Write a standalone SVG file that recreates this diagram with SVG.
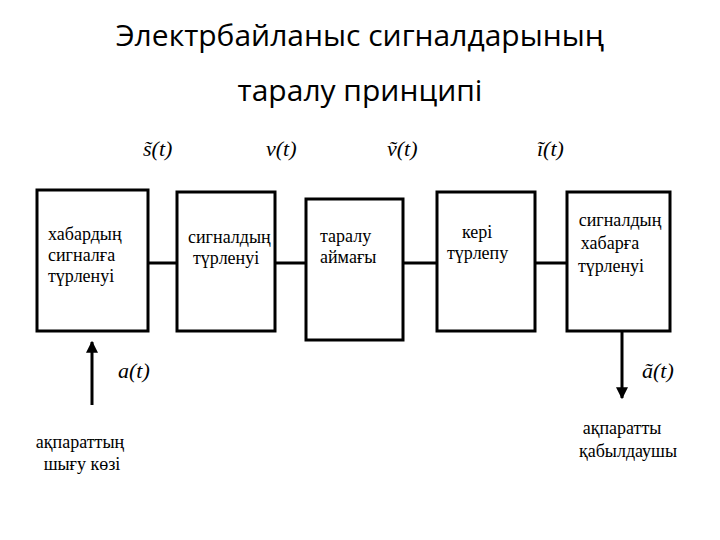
<svg xmlns="http://www.w3.org/2000/svg" width="720" height="540" viewBox="0 0 720 540">
<style>
.b{fill:#fff;stroke:#000;stroke-width:3}
.c{stroke:#000;stroke-width:3;fill:none}
.t{font-family:"Liberation Serif","Times New Roman","DejaVu Serif",serif;font-size:18px;fill:#000}
.m{font-family:"Liberation Serif","Times New Roman","DejaVu Serif",serif;font-size:22px;font-style:italic;fill:#000}
.h{font-family:"Open Sans","Noto Sans",sans-serif;font-size:30px;fill:#000}
</style>
<defs><marker id="a" viewBox="0 0 10 10" refX="9" refY="5" markerWidth="4" markerHeight="5" orient="auto"><path d="M0,0L10,5L0,10z" fill="#000"/></marker></defs>
<rect width="720" height="540" fill="#fff"/>
<text class="h" x="360" y="46" text-anchor="middle">Электрбайланыс сигналдарының</text>
<text class="h" x="360" y="101" text-anchor="middle">таралу принципі</text>
<text class="m" x="143" y="156">s̃(t)</text>
<text class="m" x="266" y="156">v(t)</text>
<text class="m" x="387" y="156">ṽ(t)</text>
<text class="m" x="537" y="156">ĩ(t)</text>
<text class="m" x="118" y="378">a(t)</text>
<text class="m" x="642" y="378">ã(t)</text>
<g id="connectors">
<path class="c" d="M148,263H177M275,263H306M403,263H437M535,263H567"/>
<path class="c" d="M92,405V342" marker-end="url(#a)"/>
<path class="c" d="M622,331V398" marker-end="url(#a)"/>
</g>
<g id="n1"><rect class="b" x="37" y="190" width="111" height="141"/><text class="t" x="48" y="240">хабардың</text><text class="t" x="48" y="261">сигналға</text><text class="t" x="48" y="282">түрленуі</text></g>
<g id="n2"><rect class="b" x="177" y="192" width="98" height="139"/><text class="t" x="188" y="243">сигналдың</text><text class="t" x="193" y="264">түрленуі</text></g>
<g id="n3"><rect class="b" x="306" y="199" width="97" height="141"/><text class="t" x="320" y="242">таралу</text><text class="t" x="320" y="263">аймағы</text></g>
<g id="n4"><rect class="b" x="437" y="192" width="98" height="139"/><text class="t" x="462" y="238">кері</text><text class="t" x="447" y="259">түрлепу</text></g>
<g id="n5"><rect class="b" x="567" y="192" width="103" height="139"/><text class="t" x="620" y="226" text-anchor="middle">сигналдың</text><text class="t" x="610" y="249" text-anchor="middle">хабарға</text><text class="t" x="611" y="272" text-anchor="middle">түрленуі</text></g>
<g id="src"><text class="t" x="80" y="448" text-anchor="middle">ақпараттың</text><text class="t" x="82" y="470" text-anchor="middle">шығу көзі</text></g>
<g id="dst"><text class="t" x="622" y="434" text-anchor="middle">ақпаратты</text><text class="t" x="628" y="457" text-anchor="middle">қабылдаушы</text></g>
</svg>
